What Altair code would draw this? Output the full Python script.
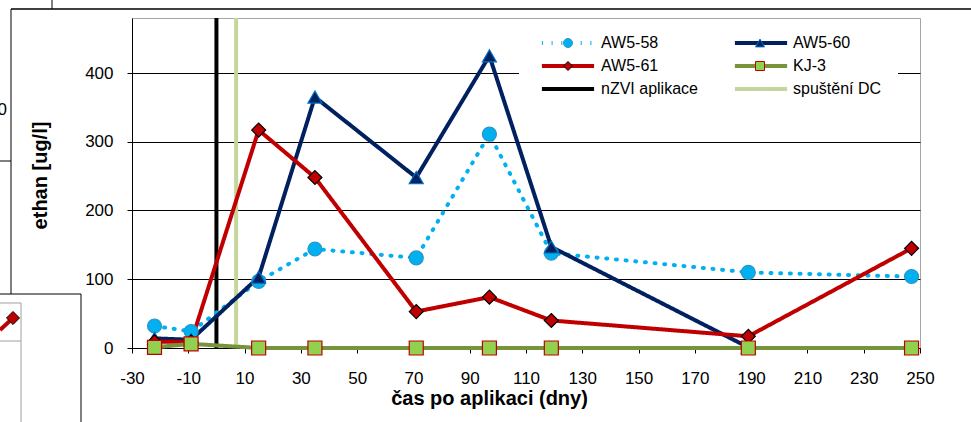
import altair as alt
import pandas as pd

# ---- data ----
days = [-22, -9, 15, 35, 71, 97, 119, 189, 247]
aw5_58 = [32, 24, 97, 144, 131, 311, 138, 110, 104]
aw5_60 = [14, 12, 103, 365, 248, 425, 147, 1, None]
aw5_61 = [9, 9, 317, 248, 53, 74, 40, 17, 145]
kj_3 = [1, 6, 0, 0, 0, 0, 0, 0, 0]

series_names = ["AW5-58", "AW5-60", "AW5-61", "KJ-3"]
rule_names = ["nZVI aplikace", "spuštění DC"]
rule_days = [0, 7]

x_ticks = list(range(-30, 251, 20))
y_ticks = [0, 100, 200, 300, 400]

# ---- tables ----
rows = []
for name, vals in zip(series_names, [aw5_58, aw5_60, aw5_61, kj_3]):
    for d, v in zip(days, vals):
        if v is not None:
            rows.append({"series": name, "lkey": "L:" + name, "day": d, "value": v})
df = pd.DataFrame(rows)
rules_df = pd.DataFrame({"series": rule_names,
                         "lkey": ["L:" + n for n in rule_names],
                         "day": rule_days})

all_names = series_names + rule_names
lkeys = ["L:" + n for n in all_names]

line_colors = ["#00B0F0", "#002060", "#C00000", "#77933C", "#000000", "#C3D69B"]
line_dashes = [[1, 8.7], [1, 0], [1, 0], [1, 0], [1, 0], [1, 0]]
line_widths = [4, 4, 4, 3.5, 2.5, 4.5]
marker_shapes = ["circle", "triangle-up", "diamond", "square", "circle", "circle"]
marker_fills = ["#00B0F0", "#002060", "#C00000", "#92D050", "transparent", "transparent"]
marker_strokes = ["#2E95C0", "#0070C0", "#000000", "#C00000", "transparent", "transparent"]

FONT = "Liberation Sans"

xscale = alt.Scale(domain=[-30, 250], nice=False, zero=False)
yscale = alt.Scale(domain=[0, 480], nice=False)

xaxis = alt.Axis(values=x_ticks, grid=False, domainColor="black", tickColor="black",
                 tickSize=5, labelFontSize=17, labelColor="black", labelPadding=17,
                 labelFlush=False, labelOverlap=False, labelExpr="'' + datum.value",
                 titleFontSize=20, titleFontWeight="bold", titleColor="black",
                 titlePadding=2, titleX=357, labelFont=FONT, titleFont=FONT)
yaxis = alt.Axis(values=y_ticks, grid=True, gridColor="black", gridWidth=1,
                 domainColor="black", tickColor="black", tickSize=5,
                 labelFontSize=17, labelColor="black", labelPadding=14,
                 titleFontSize=20, titleFontWeight="bold", titleColor="black",
                 titlePadding=34, titleY=157, labelFont=FONT, titleFont=FONT)

LX, LY, PAD = 387, 1, 16
legend_common = dict(orient="none", legendX=LX, legendY=LY, padding=PAD, columns=2,
                     direction="horizontal", columnPadding=29, rowPadding=7,
                     symbolSize=81, symbolOffset=25, labelFontSize=16, labelFont=FONT,
                     labelColor="black", title=None)

legend_lines = alt.Legend(symbolType="M-5.8,0H5.8", symbolStrokeWidth=1.5,
                          labelOffset=24, labelOpacity=0,
                          labelExpr="datum.label == 'L:spuštění DC' ? 'spuštění DC   ' : replace(datum.label, 'L:', '')",
                          fillColor="white", zindex=1, **legend_common)
legend_marks = alt.Legend(symbolStrokeWidth=1, labelOffset=25, zindex=2,
                          **legend_common)

x_enc = alt.X("day:Q", scale=xscale, axis=xaxis, title="čas po aplikaci (dny)")
y_enc = alt.Y("value:Q", scale=yscale, axis=yaxis, title="ethan [ug/l]")

rules = alt.Chart(rules_df).mark_rule().encode(
    x=alt.X("day:Q", scale=xscale),
    color=alt.Color("lkey:N", scale=alt.Scale(domain=lkeys, range=line_colors),
                    legend=legend_lines),
    strokeWidth=alt.StrokeWidth("lkey:N", scale=alt.Scale(domain=lkeys, range=line_widths),
                                legend=None),
)

lines = alt.Chart(df).mark_line(strokeCap="round", strokeJoin="round").encode(
    x=x_enc,
    y=y_enc,
    color=alt.Color("lkey:N", scale=alt.Scale(domain=lkeys, range=line_colors),
                    legend=legend_lines),
    strokeDash=alt.StrokeDash("lkey:N", scale=alt.Scale(domain=lkeys, range=line_dashes),
                              legend=legend_lines),
    strokeWidth=alt.StrokeWidth("lkey:N", scale=alt.Scale(domain=lkeys, range=line_widths),
                                legend=None),
    order=alt.Order("day:Q"),
)

points = alt.Chart(df).mark_point(filled=True, size=196, opacity=1).encode(
    x=x_enc,
    y=y_enc,
    shape=alt.Shape("series:N", scale=alt.Scale(domain=all_names, range=marker_shapes),
                    legend=legend_marks),
    fill=alt.Fill("series:N", scale=alt.Scale(domain=all_names, range=marker_fills),
                  legend=legend_marks),
    stroke=alt.Stroke("series:N", scale=alt.Scale(domain=all_names, range=marker_strokes),
                      legend=legend_marks),
    strokeWidth=alt.value(1.2),
)

# ---- leftover frames of neighbouring charts visible at the picture's left edge ----
one = pd.DataFrame({"k": [0]})


def seg(x1, y1, x2, y2, color="black", width=1.0):
    return alt.Chart(one).mark_rule(color=color, strokeWidth=width).encode(
        x=alt.value(x1), y=alt.value(y1), x2=alt.value(x2), y2=alt.value(y2))


decor = [
    seg(-121, -9, 839, -9, width=1.5),
    seg(-80, -18, -80, -9),
    seg(-121, -9, -121, 276),
    seg(-132, 143, -121, 143),
    seg(-132, 276, -51, 276),
    seg(-51, 276, -51, 404),
    seg(-132, 285, -111, 285, color="#a0a0a0"),
    seg(-111, 285, -111, 404, color="#a0a0a0"),
    seg(-132, 323, -111, 323, color="#a0a0a0"),
    seg(-132, 312, -119, 300, color="#C00000", width=4),
    alt.Chart(one).mark_point(shape="diamond", filled=True, size=170, fill="#C00000",
                              stroke="black", strokeWidth=1, opacity=1).encode(
        x=alt.value(-119), y=alt.value(300)),
    alt.Chart(one).mark_text(text="0", align="right", baseline="middle", fontSize=17,
                             font=FONT, color="black").encode(
        x=alt.value(-125), y=alt.value(92)),
]

chart = alt.layer(rules, lines, points, *decor).properties(
    width=788, height=330, autosize="none",
    padding={"left": 132, "top": 18, "right": 51, "bottom": 74},
    background="white",
).configure_view(stroke="#a6a6a6", strokeWidth=1)

chart.save("out.html", embed_options={"renderer": "svg", "actions": False})
